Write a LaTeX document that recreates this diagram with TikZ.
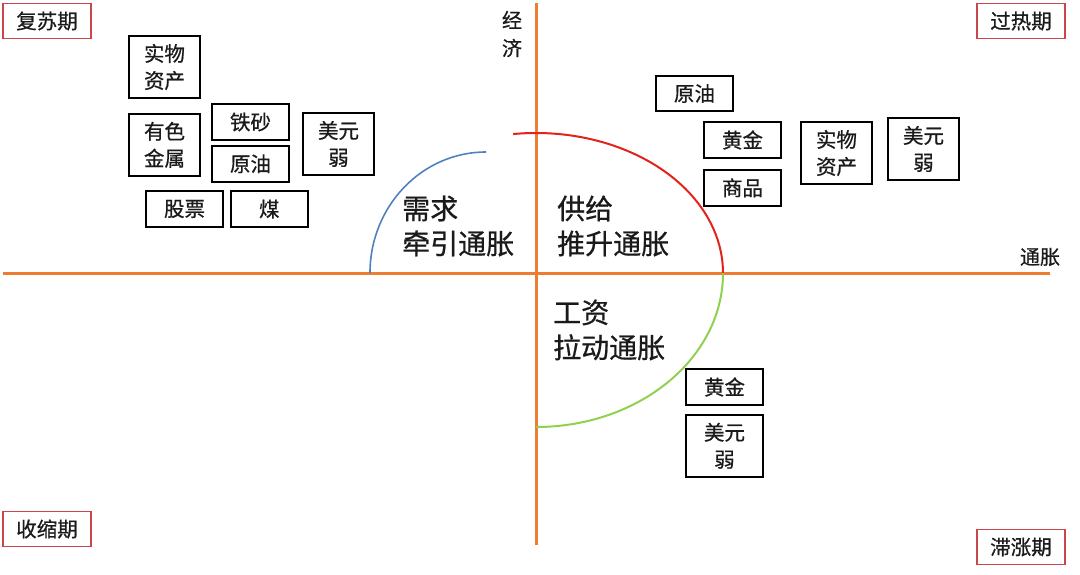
\documentclass[tikz,border=0pt]{standalone}
\usepackage{fontspec}
\setmainfont{Noto Sans CJK SC}[FakeBold=0.7]
\usetikzlibrary{
    positioning,
    calc
}
\definecolor{axisorange}{HTML}{ED7D31}
\definecolor{supplyred}{HTML}{E2231A}
\definecolor{demandblue}{HTML}{4F81BD}
\definecolor{wagegreen}{HTML}{92D050}
\definecolor{periodred}{HTML}{C9474A}
\definecolor{textblack}{HTML}{1A1A1A}

\begin{document}
\begin{tikzpicture}[
    x=1pt, y=-1pt,
    every node/.style={text=textblack},
    asset/.style={
        rectangle,
        draw=black,
        line width=1.8pt,
        minimum width=77pt,
        minimum height=36pt,
        inner sep=0pt,
        align=center,
        font=\fontsize{20.5}{27}\selectfont
    },
    assettall/.style={
        asset,
        minimum width=#1,
        minimum height=62pt
    },
    period/.style={
        rectangle,
        draw=periodred,
        line width=1.8pt,
        minimum width=88pt,
        minimum height=35pt,
        inner sep=0pt,
        font=\fontsize{20.5}{24}\selectfont
    },
    axis/.style={
        line width=3pt,
        draw=axisorange
    },
    curve/.style={
        line width=2pt,
        draw=#1
    },
    driver/.style={
        align=left,
        anchor=west,
        inner sep=0pt,
        font=\fontsize{28}{35}\selectfont
    },
    axislabel/.style={
        align=center,
        inner sep=0pt,
        font=\fontsize{20}{28}\selectfont
    }
]

\useasboundingbox (0,0) rectangle (1080,574);

% =====================================================
% Axes
% =====================================================

\coordinate (o) at (536,273);
\coordinate (xleft) at (3,273);
\coordinate (xright) at (1050,273);
\coordinate (ytop) at (536,3);
\coordinate (ybottom) at (536,545);

\draw[axis] (xleft) -- (xright);
\draw[axis] (ytop) -- (ybottom);

\node[axislabel] (econ) at (512,34) {经\\济};
\node[axislabel] (infl) at (1040,257) {通胀};

% =====================================================
% Curves
% =====================================================

\draw[curve=supplyred] (o) ++(-97:187 and 140)
    arc[start angle=-97, end angle=0, x radius=187, y radius=140];
\draw[curve=wagegreen] (o) ++(0:187 and 154)
    arc[start angle=0, end angle=90, x radius=187, y radius=154];
\coordinate (dc) at (486,273);
\draw[curve=demandblue, line width=1.6pt] (dc) ++(-90:116 and 121)
    arc[start angle=-90, end angle=-180, x radius=116, y radius=121];

\node[driver] (demand) at (402,226) {需求\\牵引通胀};
\node[driver] (supply) at (557,226) {供给\\推升通胀};
\node[driver] (wage) at (553,330) {工资\\拉动通胀};

% =====================================================
% Periods
% =====================================================

\node[period] (recovery) at (47,21) {复苏期};
\node[period] (overheat) at (1021,21) {过热期};
\node[period] (recession) at (47,529) {收缩期};
\node[period] (stagflation) at (1021,547) {滞涨期};

% =====================================================
% Recovery assets
% =====================================================

\node[assettall=71pt] (realL) at (164.5,67) {实物\\资产};
\node[assettall=71pt, below=14pt of realL] (metal) {有色\\金属};
\node[asset] (ore) at (250.5,122) {铁砂};
\node[asset, below=4pt of ore] (oilL) {原油};
\node[assettall=71pt] (usdL) at (338.5,144) {美元\\弱};
\node[asset] (stock) at (184.5,209) {股票};
\node[asset, right=6pt of stock] (coal) {煤};

% =====================================================
% Overheat assets
% =====================================================

\node[asset, minimum height=35pt] (oilR) at (694.5,93.5) {原油};
\node[asset] (goldR) at (742.5,140) {黄金};
\node[asset, below=10pt of goldR] (goods) {商品};
\node[assettall=71pt] (realR) at (836.5,153) {实物\\资产};
\node[assettall=71pt] (usdR) at (923.5,149) {美元\\弱};

% =====================================================
% Stagflation assets
% =====================================================

\node[asset] (goldS) at (724.5,387) {黄金};
\node[assettall=77pt, below=8pt of goldS] (usdS) {美元\\弱};

\end{tikzpicture}
\end{document}
